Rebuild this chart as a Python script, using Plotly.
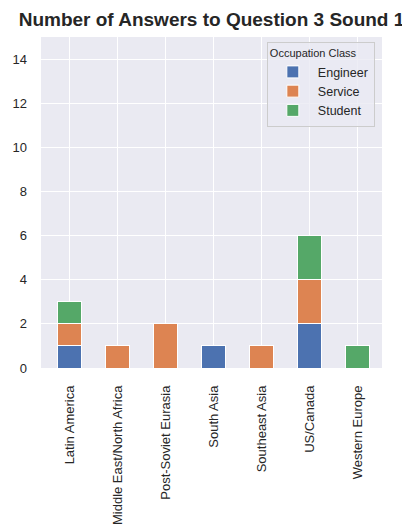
import plotly.graph_objects as go

categories = ["Latin America", "Middle East/North Africa", "Post-Soviet Eurasia",
              "South Asia", "Southeast Asia", "US/Canada", "Western Europe"]
engineer = [1, 0, 0, 1, 0, 2, 0]
service = [1, 1, 2, 0, 1, 2, 0]
student = [1, 0, 0, 0, 0, 2, 1]
series_names = ["Engineer", "Service", "Student"]
colors = ["#4C72B0", "#DD8452", "#55A868"]
y_ticks = [0, 2, 4, 6, 8, 10, 12, 14]

fig = go.Figure()
for name, vals, c in zip(series_names, [engineer, service, student], colors):
    fig.add_trace(go.Bar(
        x=categories, y=vals, name=name, width=0.5,
        marker=dict(color=c, line=dict(color="white", width=1)),
    ))

fig.update_layout(
    barmode="stack",
    width=410, height=527,
    margin=dict(l=33, r=36, t=29, b=167),
    paper_bgcolor="white",
    plot_bgcolor="#EAEAF2",
    font=dict(family="Liberation Sans, Arial, sans-serif", size=13, color="#262626"),
    title=dict(text="<b>Number of Answers to Question 3 Sound 1</b>",
               x=0.5, xref="paper", xanchor="center",
               y=1, yref="container", yanchor="top", pad=dict(t=5),
               font=dict(size=19, color="#262626")),
    legend=dict(
        title=dict(text="Occupation Class", font=dict(size=11), side="top"),
        x=0.979, y=0.985, xanchor="right", yanchor="top",
        bgcolor="rgba(234,234,242,0.8)", bordercolor="#CCCCCC", borderwidth=1,
        font=dict(size=12.5), traceorder="normal", itemwidth=40,
    ),
    xaxis=dict(
        tickangle=-90, showgrid=True, gridcolor="white", gridwidth=1,
        zeroline=False, showline=False, ticks="", ticklabelstandoff=14,
        range=[-0.6, 6.5], automargin=False, tickfont=dict(size=13),
    ),
    yaxis=dict(
        range=[0, 15], tickvals=y_ticks, showgrid=True, gridcolor="white", gridwidth=1,
        zeroline=False, showline=False, ticks="", ticklabelstandoff=13,
        automargin=False,
    ),
)

fig.write_html("out.html")
